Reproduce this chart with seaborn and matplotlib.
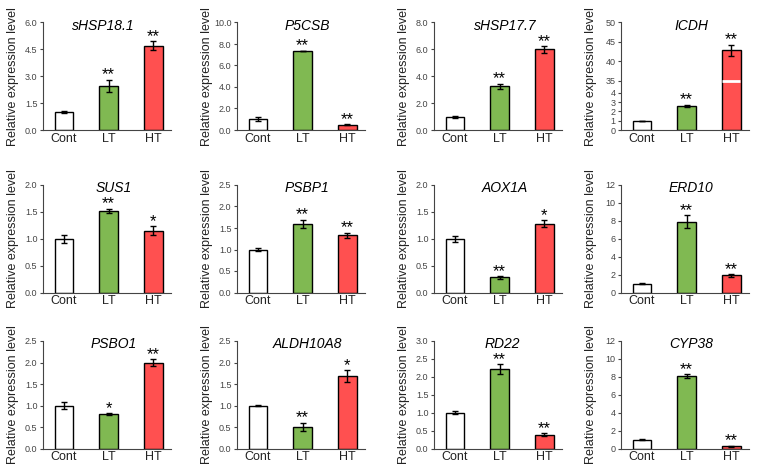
import numpy as np
import matplotlib
matplotlib.use("Agg")
import matplotlib.pyplot as plt
import seaborn as sns

# %% data
genes = ["sHSP18.1", "P5CSB", "sHSP17.7", "ICDH",
         "SUS1", "PSBP1", "AOX1A", "ERD10",
         "PSBO1", "ALDH10A8", "RD22", "CYP38"]
groups = ["Cont", "LT", "HT"]

cont_mean = [1.0, 1.0, 1.0, 1.0, 1.0, 1.0, 1.0, 1.0, 1.0, 1.0, 1.0, 1.0]
lt_mean = [2.45, 7.35, 3.25, 2.6, 1.52, 1.6, 0.28, 7.9, 0.8, 0.5, 2.22, 8.1]
ht_mean = [4.7, 0.5, 6.0, 42.8, 1.15, 1.33, 1.28, 1.9, 2.0, 1.68, 0.38, 0.25]

cont_err = [0.05, 0.2, 0.07, 0.0, 0.07, 0.04, 0.06, 0.05, 0.08, 0.02, 0.05, 0.05]
lt_err = [0.35, 0.04, 0.2, 0.1, 0.04, 0.09, 0.02, 0.7, 0.02, 0.1, 0.13, 0.2]
ht_err = [0.25, 0.05, 0.25, 1.5, 0.08, 0.06, 0.07, 0.15, 0.07, 0.14, 0.04, 0.05]

lt_sig = ["**", "**", "**", "**", "**", "**", "**", "**", "*", "**", "**", "**"]
ht_sig = ["**", "**", "**", "**", "*", "**", "*", "**", "**", "*", "**", "**"]

y_max = [6.0, 10.0, 8.0, 50, 2.0, 2.5, 2.0, 12, 2.5, 2.5, 3.0, 12]
y_step = [1.5, 2.0, 2.0, None, 0.5, 0.5, 0.5, 2, 0.5, 0.5, 0.5, 2]
icdh_ticks = [0, 1, 2, 3, 4, 35, 40, 45, 50]

bar_colors = ["#ffffff", "#80b952", "#ff5050"]

# %% layout (pixels)
W, H = 766, 473
col_left = [43, 237, 434, 621]
row_top = [22.5, 185, 341]
ax_w, ax_h = 128, 107.5
title_x = [0.47, 0.55, 0.56, 0.55, 0.55, 0.55, 0.55, 0.55, 0.55, 0.55, 0.53, 0.55]


# broken axis for ICDH: 0-4 linear, squeeze 4-35, 35-50 compressed
def fwd(v):
    v = np.asarray(v, dtype=float)
    return np.where(v <= 4, v,
                    np.where(v <= 35, 4 + (v - 4) * (1.29 / 31),
                             5.29 + (v - 35) * 0.416))


def inv(u):
    u = np.asarray(u, dtype=float)
    return np.where(u <= 4, u,
                    np.where(u <= 5.29, 4 + (u - 4) * (31 / 1.29),
                             35 + (u - 5.29) / 0.416))


sns.set_theme(style="ticks")
plt.rcParams["font.family"] = ["Liberation Sans", "DejaVu Sans"]

fig = plt.figure(figsize=(W / 100, H / 100), dpi=100)

for i, gene in enumerate(genes):
    r, c = divmod(i, 4)
    ax = fig.add_axes([col_left[c] / W, 1 - (row_top[r] + ax_h) / H, ax_w / W, ax_h / H])
    vals = [cont_mean[i], lt_mean[i], ht_mean[i]]
    errs = [cont_err[i], lt_err[i], ht_err[i]]

    if gene == "ICDH":
        ax.set_yscale("function", functions=(fwd, inv))

    sns.barplot(x=groups, y=vals, hue=groups, palette=bar_colors, width=0.42,
                saturation=1, edgecolor="black", linewidth=1.0, errorbar=None,
                legend=False, ax=ax)
    ax.errorbar(range(3), vals, yerr=errs, fmt="none", ecolor="black",
                elinewidth=1.0, capsize=2, capthick=1.0)

    if gene == "ICDH":
        ax.set_ylim(0, y_max[i])
        ax.set_yticks(icdh_ticks)
        ax.set_yticklabels([str(t) for t in icdh_ticks])
        ax.hlines(35, 2 - 0.2, 2 + 0.2, color="white", lw=2.0, zorder=5)
    else:
        ax.set_ylim(0, y_max[i])
        ticks = np.arange(0, y_max[i] + 1e-9, y_step[i])
        ax.set_yticks(ticks)
        if y_max[i] >= 12:
            ax.set_yticklabels([f"{t:.0f}" for t in ticks])
        else:
            ax.set_yticklabels([f"{t:.1f}" for t in ticks])

    # significance stars
    for x, sig in zip([1, 2], [lt_sig[i], ht_sig[i]]):
        top = vals[x] + errs[x]
        ax.annotate(sig, (x, top), xytext=(0, -2), textcoords="offset points",
                    ha="center", va="bottom", fontsize=12, color="black")

    ax.text(title_x[i], 1.035, gene, transform=ax.transAxes, ha="center", va="top",
            fontsize=10, style="italic", color="black")

    ax.set_xlim(-0.47, 2.4)
    ax.set_xlabel("")
    ax.set_ylabel("Relative expression level", fontsize=9, color="#222222")
    ax.yaxis.set_label_coords(-0.19, 0.5)
    sns.despine(ax=ax)
    for s in ["left", "bottom"]:
        ax.spines[s].set_linewidth(0.8)
        ax.spines[s].set_color("#444444")
    ax.tick_params(axis="y", length=2.5, width=0.8, pad=1.5, labelsize=6.5,
                   colors="#444444", labelcolor="#444444")
    ax.tick_params(axis="x", length=0, pad=2, labelsize=9, labelcolor="#222222")

fig.savefig("out.png", dpi=100)
